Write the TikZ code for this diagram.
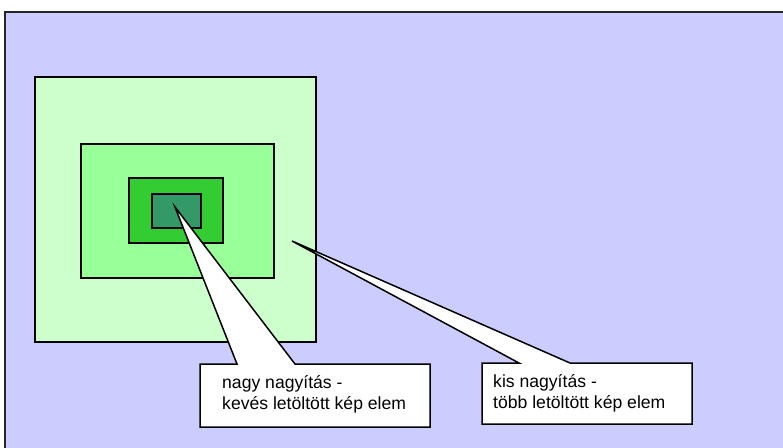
\documentclass[tikz,border=0pt]{standalone}
\usepackage{fontspec}
\setmainfont{Liberation Sans}
\definecolor{bgblue}{HTML}{CCCCFF}
\definecolor{gA}{HTML}{CCFFCC}
\definecolor{gB}{HTML}{99FF99}
\definecolor{gC}{HTML}{33CC33}
\definecolor{gD}{HTML}{339966}
\tikzset{
  zone/.style={draw=black, line width=1.5pt},
  callout/.style={draw=black, fill=white, line width=1.5pt, line join=miter},
  lbl/.style={anchor=base west, inner sep=0pt, font=\fontsize{17.6}{20}\selectfont}
}
\begin{document}
\begin{tikzpicture}[x=1pt,y=-1pt]
\useasboundingbox (0,0) rectangle (783,447);
\fill[white] (0,0) rectangle (783,447);
\draw[fill=bgblue, draw=black!85, line width=2.5pt] (5,12) rectangle (800,470);
% nested zones
\draw[zone, fill=gA] (35,77) rectangle (316,342);
\draw[zone, fill=gB] (81,144) rectangle (274,278);
\draw[zone, fill=gC] (129,178) rectangle (223,243);
\draw[zone, fill=gD] (152,194) rectangle (201,228);
% callout 1
\coordinate (tipA) at (175,207);
\draw[callout] (200,364) -- (237,364) -- (tipA) -- (295,364) -- (430,364) -- (430,427) -- (200,427) -- cycle;
\node[lbl] (a1) at (222,388) {nagy nagyítás -};
\node[lbl] (a2) at (222,409) {kevés letöltött kép elem};
% callout 2
\coordinate (tipB) at (292,241);
\draw[callout] (482,363) -- (519,363) -- (tipB) -- (570,363) -- (692,363) -- (692,424) -- (482,424) -- cycle;
\node[lbl] (b1) at (493,387) {kis nagyítás -};
\node[lbl] (b2) at (493,408) {több letöltött kép elem};
\end{tikzpicture}
\end{document}
